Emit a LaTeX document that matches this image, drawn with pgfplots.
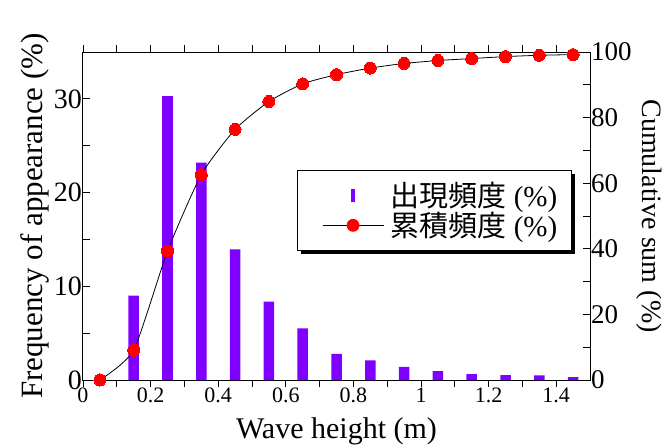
\documentclass[border=0pt]{standalone}
\usepackage{fontspec}
\setmainfont{Liberation Serif}
\newfontfamily\cjk{Noto Sans CJK JP}
\usepackage{pgfplots}
\usepackage{pgfplotstable}
\pgfplotsset{compat=1.18}
\usetikzlibrary{backgrounds}
\definecolor{barviolet}{RGB}{127,0,255}

\pgfplotstableread{
x y
0.15 9.0
0.25 30.3
0.35 23.2
0.45 13.95
0.55 8.36
0.65 5.5
0.75 2.8
0.85 2.1
0.95 1.39
1.05 0.96
1.15 0.64
1.25 0.53
1.35 0.50
1.45 0.32
}\freqdata

\pgfplotstableread{
x y
0.05 0
0.15 9.1
0.25 39.3
0.35 62.6
0.45 76.4
0.55 84.9
0.65 90.3
0.75 93.1
0.85 95.1
0.95 96.5
1.05 97.4
1.15 98.0
1.25 98.6
1.35 99.0
1.45 99.2
}\cumdata

\pgfplotsset{
  common/.style={
    scale only axis, width=507bp, height=328bp,
    xmin=0, xmax=1.5,
    tick align=inside,
    major tick length=7bp, minor tick length=7bp,
    every tick/.style={black, line width=0.8bp},
    axis line style={black, line width=1bp},
    /pgf/number format/assume math mode=true,
  }
}

\begin{document}
\begin{tikzpicture}
\begin{axis}[common,
  ymin=0, ymax=35,
  xtick={0,0.2,...,1.4}, minor x tick num=1,
  ytick={0,10,20,30}, minor y tick num=1,
  xtick pos=both, ytick pos=left,
  xticklabel style={font=\fontsize{22bp}{22bp}\selectfont, inner sep=1bp},
  yticklabel style={font=\fontsize{28bp}{28bp}\selectfont, inner sep=1bp},
  xlabel={Wave height (m)},
  ylabel={Frequency of appearance (\%)},
  xlabel style={font=\fontsize{30bp}{30bp}\selectfont, yshift=-10bp},
  ylabel style={font=\fontsize{31bp}{31bp}\selectfont},
  ybar, bar width=10.5bp, bar shift=0pt,
]
\addplot[fill=barviolet, draw=none] table[x=x, y=y] {\freqdata};
\end{axis}
\begin{axis}[common,
  ymin=0, ymax=100,
  axis x line=none, axis y line*=right,
  ytick={0,20,...,100}, minor y tick num=1,
  tick align=inside,
  yticklabel style={font=\fontsize{27bp}{27bp}\selectfont, inner sep=1bp},
  ylabel={Cumulative sum (\%)},
  ylabel style={font=\fontsize{28bp}{28bp}\selectfont, rotate=180},
  legend style={name=leg, at={(0.964,0.64)}, anchor=north east, draw=black, line width=1bp,
    font=\fontsize{29bp}{29bp}\selectfont,
    fill=white, row sep=0bp, inner xsep=12bp, inner ysep=10bp},
  legend cell align=left,
]
\addlegendimage{legend image code/.code={\fill[barviolet] (29bp,-6bp) rectangle (32bp,6bp); \path[draw=none] (-13bp,0bp) -- (66bp,0bp);}}
\addlegendentry{{\cjk 出現頻度} (\%)}
\addplot[black, line width=0.8bp, smooth, tension=0.35, mark=*, mark size=6bp,
  mark options={fill=red, draw=red, line width=0pt},
  legend image code/.code={\draw[black, line width=0.8bp] (0bp,0bp) -- (61bp,0bp); \fill[red] (30.5bp,0bp) circle (6bp); \path[draw=none] (-13bp,0bp) -- (66bp,0bp);}]
  table[x=x, y=y] {\cumdata};
\addlegendentry{{\cjk 累積頻度} (\%)}
\end{axis}
\begin{scope}[on background layer]
\fill[black] ([xshift=3.5bp,yshift=-3.5bp]leg.south west) rectangle ([xshift=3.5bp,yshift=-3.5bp]leg.north east);
\end{scope}
\pgfresetboundingbox
\path (-83bp,-65bp) rectangle (589bp,380bp);
\end{tikzpicture}
\end{document}
